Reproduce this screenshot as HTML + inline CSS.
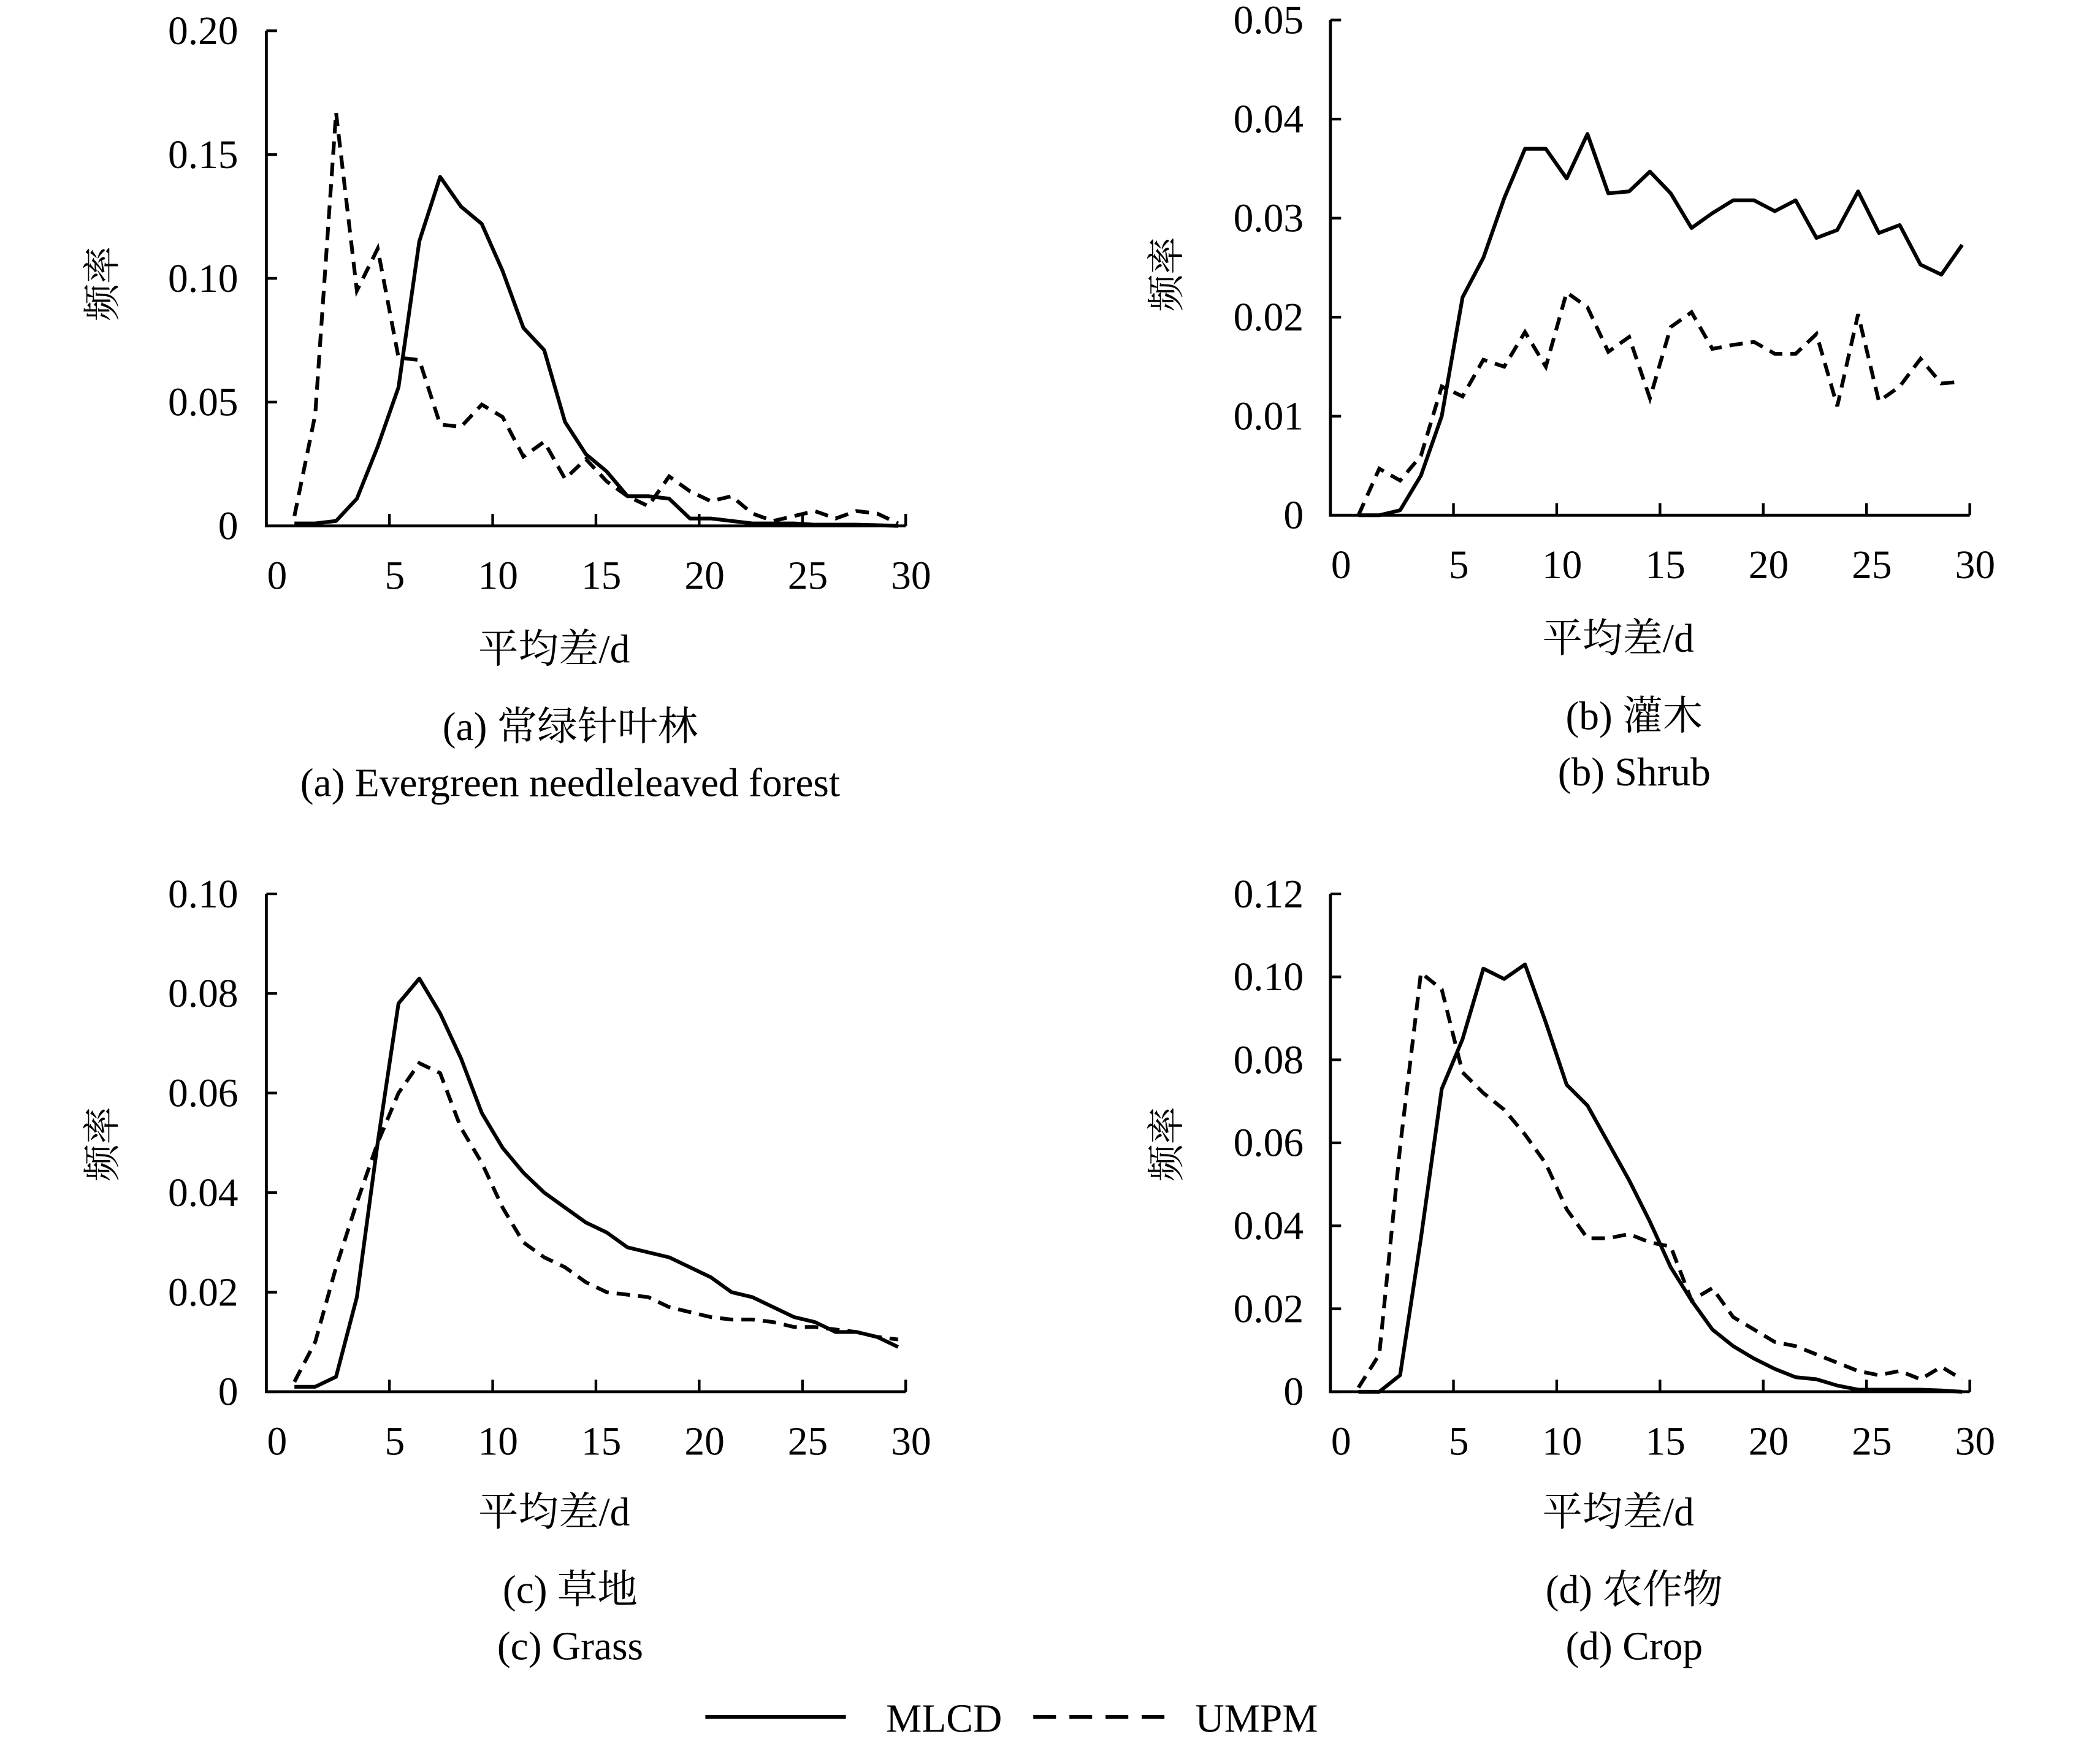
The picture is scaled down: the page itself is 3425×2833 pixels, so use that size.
<!DOCTYPE html>
<html><head><meta charset="utf-8">
<style>
html,body{margin:0;padding:0;background:#fff;}
svg{display:block;}
text{font-family:"Liberation Serif","Noto Serif CJK SC","Noto Sans CJK SC",serif;fill:#000;}
</style></head>
<body>
<svg id="chart" width="3425" height="2833" viewBox="0 0 1569 1298" preserveAspectRatio="none" xmlns="http://www.w3.org/2000/svg">
<g id="root"></g>
<g>
  <line x1="527" y1="1283" x2="632" y2="1283" stroke="#000" stroke-width="3"/>
  <text x="662" y="1294" font-size="30">MLCD</text>
  <line x1="772" y1="1283" x2="870" y2="1283" stroke="#000" stroke-width="3" stroke-dasharray="17,10"/>
  <text x="893" y="1294" font-size="30">UMPM</text>
</g>
</svg>
<script>
const xTicks = [0,5,10,15,20,25,30];
const days = [1,2,3,4,5,6,7,8,9,10,11,12,13,14,15,16,17,18,19,20,21,22,23,24,25,26,27,28,29,30];
const aTicks = ["0","0.05","0.10","0.15","0.20"];
const aTickVals = [0,0.05,0.10,0.15,0.20];
const aMLCD = [0.001,0.001,0.002,0.011,0.032,0.056,0.115,0.141,0.129,0.122,0.103,0.080,0.071,0.042,0.029,0.022,0.012,0.012,0.011,0.003,0.003,0.002,0.001,0.001,0.001,0.0005,0.0005,0.0005,0.0003,0.0];
const aUMPM = [0.004,0.045,0.167,0.095,0.112,0.068,0.067,0.041,0.040,0.049,0.044,0.028,0.034,0.019,0.027,0.018,0.012,0.008,0.020,0.014,0.010,0.012,0.005,0.002,0.004,0.006,0.003,0.006,0.005,0.001];
const bTicks = ["0","0.01","0.02","0.03","0.04","0.05"];
const bTickVals = [0,0.01,0.02,0.03,0.04,0.05];
const bMLCD = [0,0,0.0005,0.004,0.010,0.022,0.026,0.032,0.037,0.037,0.034,0.0385,0.0325,0.0327,0.0347,0.0325,0.029,0.0305,0.0318,0.0318,0.0307,0.0318,0.028,0.0288,0.0327,0.0285,0.0293,0.0253,0.0243,0.0273];
const bUMPM = [0,0.0047,0.0035,0.006,0.013,0.012,0.0157,0.015,0.0185,0.015,0.0225,0.021,0.0165,0.018,0.0118,0.019,0.0205,0.0168,0.0172,0.0175,0.0163,0.0163,0.0183,0.011,0.0203,0.0115,0.013,0.0158,0.0133,0.0135];
const cTicks = ["0","0.02","0.04","0.06","0.08","0.10"];
const cTickVals = [0,0.02,0.04,0.06,0.08,0.10];
const cMLCD = [0.001,0.001,0.003,0.019,0.050,0.078,0.083,0.076,0.067,0.056,0.049,0.044,0.040,0.037,0.034,0.032,0.029,0.028,0.027,0.025,0.023,0.020,0.019,0.017,0.015,0.014,0.012,0.012,0.011,0.009];
const cUMPM = [0.002,0.010,0.025,0.038,0.050,0.060,0.066,0.064,0.053,0.046,0.037,0.030,0.027,0.025,0.022,0.020,0.0195,0.019,0.017,0.016,0.015,0.0145,0.0145,0.014,0.013,0.013,0.0125,0.012,0.011,0.0105];
const dTicks = ["0","0.02","0.04","0.06","0.08","0.10","0.12"];
const dTickVals = [0,0.02,0.04,0.06,0.08,0.10,0.12];
const dMLCD = [0,0,0.004,0.037,0.073,0.085,0.102,0.0995,0.103,0.089,0.074,0.069,0.060,0.051,0.041,0.030,0.022,0.015,0.011,0.008,0.0055,0.0035,0.003,0.0015,0.0005,0.0005,0.0005,0.0005,0.0003,0];
const dUMPM = [0.001,0.009,0.059,0.101,0.097,0.077,0.072,0.068,0.062,0.055,0.044,0.037,0.037,0.038,0.036,0.035,0.022,0.025,0.018,0.015,0.012,0.011,0.009,0.007,0.005,0.004,0.005,0.003,0.006,0.003];

const NS = "http://www.w3.org/2000/svg";
const root = document.getElementById('root');
function mk(tag, attrs, parent){
  const e = document.createElementNS(NS, tag);
  for (const k in attrs) e.setAttribute(k, attrs[k]);
  parent.appendChild(e);
  return e;
}
function panel(id, ox, top, bottom, ymax, tickLabels, tickVals, s1, s2, cap1, cap2, labRight, ylabX, ylabY, titleY, cap1Y, cap2Y){
  const g = mk('g', {}, root);
  
  
  const axX = ox;
  const x0 = ox + 14.8; const unit = 15.43;
  const xs = v => x0 + v * unit;
  const xd = d => xs(d - 0.6) + (d - 1) * 0.008 * unit;
  const ys = v => bottom - v / ymax * (bottom - top);
  const right = xs(30);
  const ax = mk('path', {d:`M${axX} ${top} L${axX} ${bottom} L${right} ${bottom}`, fill:'none', stroke:'#000', 'stroke-width':2.2}, g);
  
  
  tickVals.forEach((v, i) => {
    const t = mk('line', {x1:axX, x2:axX+8, y1:ys(v), y2:ys(v), stroke:'#000', 'stroke-width':2}, g);
    
    
    const l = mk('text', {x:labRight, y:ys(v)+10, 'font-size':30, 'text-anchor':'end'}, g);
    
    
    l.textContent = tickLabels[i];
  });
  xTicks.forEach(v => {
    if (v > 0) {
      const t = mk('line', {x1:xs(v), x2:xs(v), y1:bottom, y2:bottom-9, stroke:'#000', 'stroke-width':2}, g);
      
      
    }
    const l = mk('text', {x:(v===0? axX+8 : xs(v)+4), y:bottom+47, 'font-size':30, 'text-anchor':'middle'}, g);
    
    
    l.textContent = String(v);
  });
  const p1 = mk('polyline', {points: days.map((d,i)=>xd(d)+','+ys(s1[i])).join(' '), fill:'none', stroke:'#000', 'stroke-width':2.8, 'stroke-linejoin':'round'}, g);
  
  
  const p2 = mk('polyline', {points: days.map((d,i)=>xd(d)+','+ys(s2[i])).join(' '), fill:'none', stroke:'#000', 'stroke-width':2.8, 'stroke-dasharray':'10,6'}, g);
  
  
  const yl = mk('text', {x:ylabX, y:ylabY, 'font-size':28, 'text-anchor':'middle', transform:`rotate(-90 ${ylabX} ${ylabY})`}, g);
  
  
  yl.textContent = '频率';
  const cx = ox + 215;
  const xt = mk('text', {x:cx, y:titleY, 'font-size':30, 'text-anchor':'middle'}, g);
  
  
  xt.textContent = '平均差/d';
  const c1 = mk('text', {x:cx+12, y:cap1Y, 'font-size':30, 'text-anchor':'middle'}, g);
  
  
  c1.textContent = cap1;
  const c2 = mk('text', {x:cx+12, y:cap2Y, 'font-size':30, 'text-anchor':'middle'}, g);
  
  
  c2.textContent = cap2;
}
panel('a', 199, 23, 393, 0.20, aTicks, aTickVals, aMLCD, aUMPM, '(a) 常绿针叶林', '(a) Evergreen needleleaved forest', 178, 86, 212, 495, 553, 595);
panel('b', 994, 15, 385, 0.05, bTicks, bTickVals, bMLCD, bUMPM, '(b) 灌木', '(b) Shrub', 974, 881, 205, 487, 545, 587);
panel('c', 199, 668, 1040, 0.10, cTicks, cTickVals, cMLCD, cUMPM, '(c) 草地', '(c) Grass', 178, 86, 855, 1140, 1198, 1240);
panel('d', 994, 668, 1040, 0.12, dTicks, dTickVals, dMLCD, dUMPM, '(d) 农作物', '(d) Crop', 974, 881, 855, 1140, 1198, 1240);
</script>
</body></html>
